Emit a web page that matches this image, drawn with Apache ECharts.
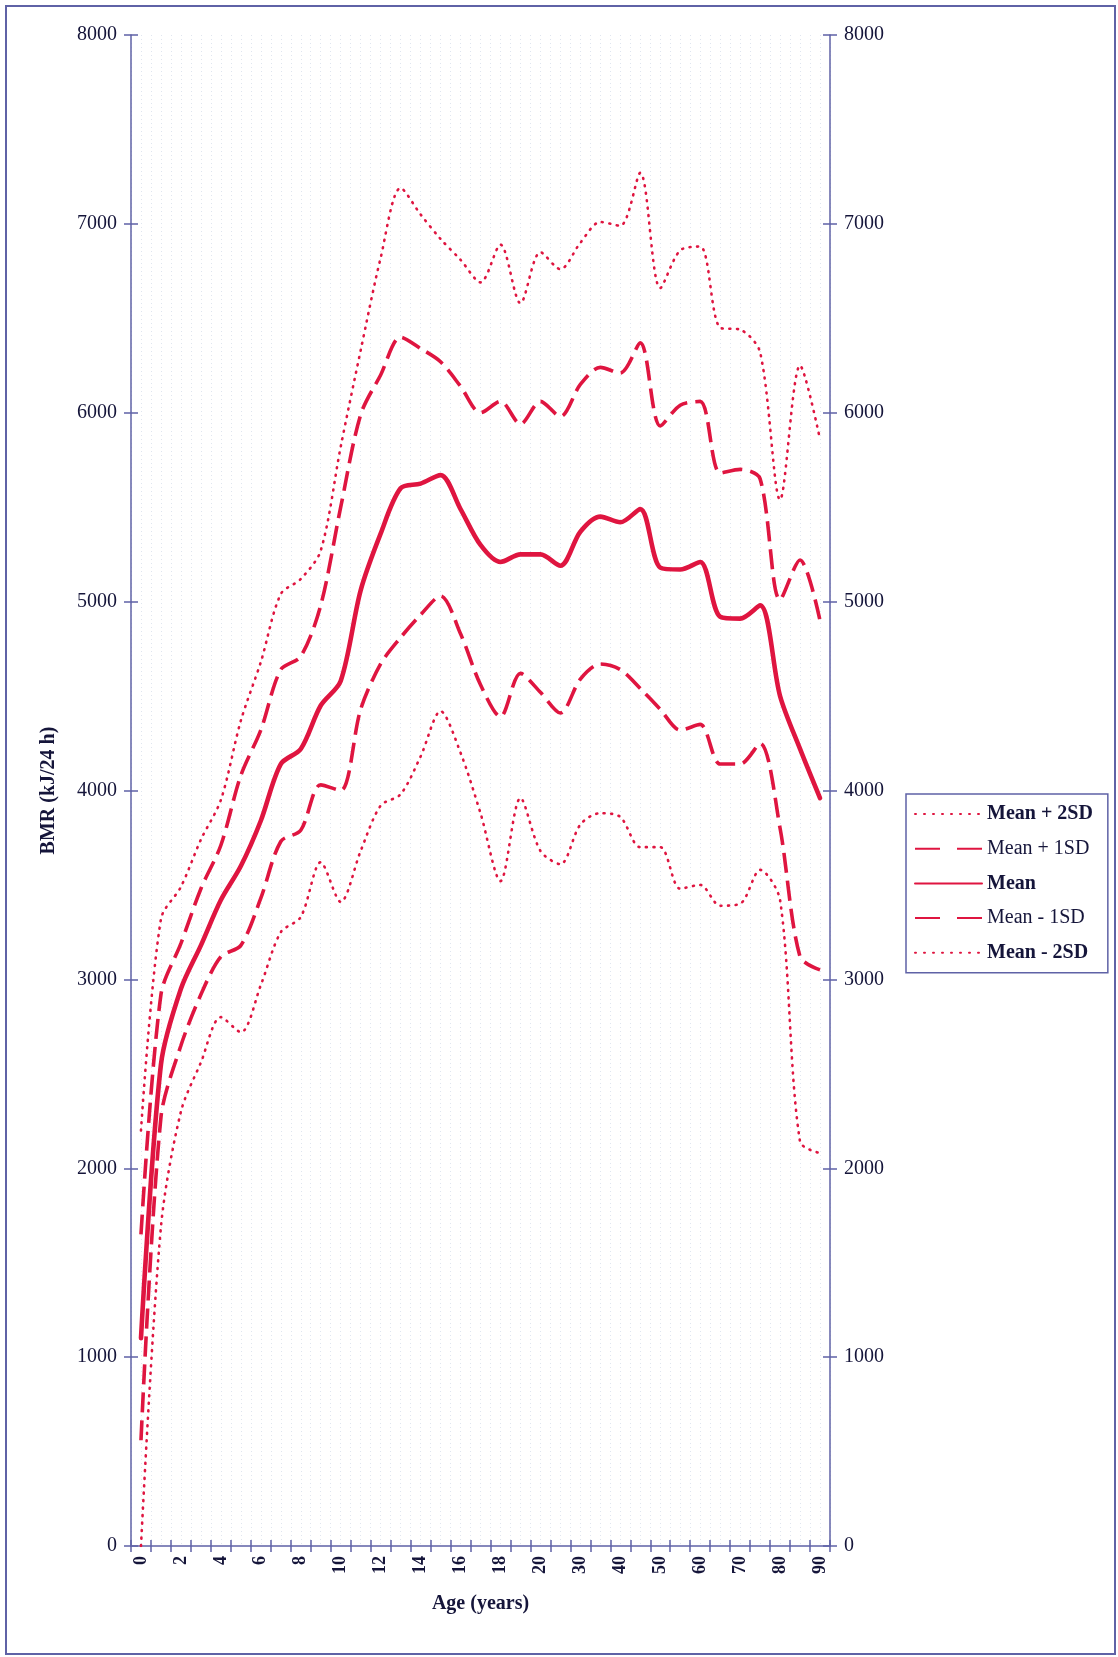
<!DOCTYPE html>
<html>
<head>
<meta charset="utf-8">
<title>BMR by age</title>
<script src="https://cdn.jsdelivr.net/npm/echarts@6/dist/echarts.min.js"></script>
<style>
  html, body { margin: 0; padding: 0; background: #ffffff; }
  #chart { width: 1118px; height: 1657px; }
</style>
</head>
<body>
<div id="chart"></div>
<script>
// Age categories (years); every other one is labelled on the axis
const ages = ['0','1','2','3','4','5','6','7','8','9','10','11','12','13','14','15','16','17','18','19','20',
              '25','30','35','40','45','50','55','60','65','70','75','80','85','90'];

// BMR (kJ/24 h)
const meanPlus2SD = [2200, 3320, 3490, 3740, 3950, 4370, 4680, 5040, 5120, 5270, 5820, 6330, 6820, 7190, 7050, 6920, 6810, 6690, 6890, 6580, 6850,
                     6760, 6900, 7010, 6990, 7270, 6660, 6860, 6880, 6450, 6440, 6320, 5540, 6250, 5860];
const meanPlus1SD = [1650, 2920, 3190, 3480, 3710, 4080, 4320, 4640, 4710, 4980, 5500, 5990, 6200, 6400, 6340, 6270, 6140, 6000, 6060, 5940, 6060,
                     5980, 6150, 6240, 6210, 6370, 5930, 6040, 6060, 5680, 5700, 5650, 5010, 5220, 4900];
const meanBMR     = [1100, 2550, 2950, 3180, 3420, 3600, 3840, 4140, 4220, 4450, 4580, 5060, 5360, 5600, 5625, 5670, 5490, 5300, 5210, 5250, 5250,
                     5190, 5370, 5450, 5420, 5490, 5180, 5170, 5210, 4920, 4910, 4980, 4500, 4220, 3960];
const meanMinus1SD = [560, 2270, 2650, 2920, 3120, 3180, 3430, 3730, 3790, 4030, 4000, 4430, 4670, 4810, 4930, 5030, 4830, 4560, 4390, 4620, 4520,
                      4410, 4590, 4670, 4640, 4540, 4430, 4320, 4350, 4140, 4140, 4250, 3800, 3120, 3050];
const meanMinus2SD = [0, 1690, 2300, 2560, 2800, 2720, 2970, 3250, 3330, 3620, 3410, 3680, 3920, 3980, 4180, 4420, 4200, 3880, 3520, 3960, 3680,
                      3610, 3820, 3880, 3860, 3700, 3700, 3480, 3500, 3390, 3400, 3580, 3420, 2140, 2080];

const seriesNames = ['Mean + 2SD', 'Mean + 1SD', 'Mean', 'Mean - 1SD', 'Mean - 2SD'];

const FONT = 'Liberation Serif';
const AXIS = '#5f62a6';
const RED = '#df1540';
const INK = '#15153a';

const chart = echarts.init(document.getElementById('chart'), null, { renderer: 'canvas' });

const dotted = { color: RED, width: 2.6, type: [1, 6.5], cap: 'round' };
const dashed = { color: RED, width: 3.6, type: [20, 8], cap: 'butt' };
const solid  = { color: RED, width: 4.6, type: 'solid', cap: 'round' };

function line(name, data, style) {
  return {
    name: name,
    type: 'line',
    data: data,
    xAxisIndex: 0,
    yAxisIndex: 0,
    smooth: 0.3,
    symbol: 'none',
    lineStyle: style,
    itemStyle: { color: RED },
    z: 5
  };
}

// legend entries: the ±1SD keys use a longer two-dash pattern
const legendData = seriesNames.map(function (n) {
  return n.indexOf('1SD') >= 0
    ? { name: n, lineStyle: { type: [25, 17] } }
    : { name: n, lineStyle: { type: n === 'Mean' ? 'solid' : [1, 8] } };
});

const plain = function (v) { return String(v); };
const yCommon = { type: 'value', min: 0, max: 8000, interval: 1000, splitLine: { show: false } };

chart.setOption({
  backgroundColor: '#ffffff',
  animation: false,
  graphic: [{
    type: 'rect',
    shape: { x: 6, y: 6, width: 1109, height: 1648 },
    style: { fill: 'none', stroke: AXIS, lineWidth: 2 },
    silent: true,
    z: -1
  }],
  grid: { left: 131, right: 288, top: 35, bottom: 111, containLabel: false },
  legend: {
    orient: 'vertical',
    left: 906,
    top: 794,
    padding: [10, 15, 10, 8],
    itemWidth: 67,
    itemHeight: 14,
    itemGap: 14.7,
    borderColor: AXIS,
    borderWidth: 1.5,
    backgroundColor: '#ffffff',
    selectedMode: false,
    itemStyle: { opacity: 0 },
    data: legendData,
    formatter: function (n) {
      return (n.indexOf('1SD') >= 0 ? '{r|' : '{b|') + n + '}';
    },
    textStyle: {
      fontFamily: FONT, fontSize: 20, color: INK, lineHeight: 20,
      rich: {
        b: { fontFamily: FONT, fontSize: 20, fontWeight: 'bold', color: INK, lineHeight: 20 },
        r: { fontFamily: FONT, fontSize: 20, fontWeight: 'normal', color: INK, lineHeight: 20 }
      }
    }
  },
  xAxis: [
    {
      type: 'category',
      data: ages,
      boundaryGap: true,
      position: 'bottom',
      axisLine: { show: true, onZero: false, lineStyle: { color: AXIS, width: 1.5 } },
      axisTick: { show: true, interval: 0, length: 6, lineStyle: { color: AXIS, width: 1.5 } },
      axisLabel: {
        interval: 1, rotate: 90, margin: 10,
        fontFamily: FONT, fontSize: 18, fontWeight: 'bold', color: INK
      },
      splitLine: { show: false },
      name: 'Age (years)',
      nameLocation: 'middle',
      nameGap: 48,
      nameTextStyle: { fontFamily: FONT, fontSize: 20, fontWeight: 'bold', color: INK, verticalAlign: 'top' }
    },
    {
      // inner half of the cross tick marks
      type: 'category',
      data: ages,
      boundaryGap: true,
      position: 'bottom',
      axisLine: { show: false, onZero: false },
      axisTick: { show: true, inside: true, interval: 0, length: 6, lineStyle: { color: AXIS, width: 1.5 } },
      axisLabel: { show: false },
      splitLine: { show: false }
    },
    {
      // faint dotted vertical gridlines, two per age column
      type: 'value',
      min: 0, max: 70, interval: 1,
      position: 'bottom',
      axisLine: { show: false, onZero: false },
      axisTick: { show: false },
      axisLabel: { show: false },
      splitLine: { show: true, lineStyle: { color: '#dfe5ef', width: 1, type: [1, 3] } }
    }
  ],
  yAxis: [
    Object.assign({}, yCommon, {
      position: 'left',
      axisLine: { show: true, lineStyle: { color: AXIS, width: 1.5 } },
      axisTick: { show: true, length: 7, lineStyle: { color: AXIS, width: 1.5 } },
      axisLabel: { margin: 14, fontFamily: FONT, fontSize: 20, color: INK, formatter: plain },
      name: 'BMR (kJ/24 h)',
      nameLocation: 'middle',
      nameGap: 72,
      nameRotate: 90,
      nameTextStyle: { fontFamily: FONT, fontSize: 20, fontWeight: 'bold', color: INK }
    }),
    Object.assign({}, yCommon, {
      position: 'right',
      axisLine: { show: true, lineStyle: { color: AXIS, width: 1.5 } },
      axisTick: { show: true, length: 7, lineStyle: { color: AXIS, width: 1.5 } },
      axisLabel: { margin: 14, fontFamily: FONT, fontSize: 20, color: INK, formatter: plain }
    }),
    Object.assign({}, yCommon, {
      position: 'left',
      axisLine: { show: false },
      axisTick: { show: true, inside: true, length: 7, lineStyle: { color: AXIS, width: 1.5 } },
      axisLabel: { show: false }
    }),
    Object.assign({}, yCommon, {
      position: 'right',
      axisLine: { show: false },
      axisTick: { show: true, inside: true, length: 7, lineStyle: { color: AXIS, width: 1.5 } },
      axisLabel: { show: false }
    })
  ],
  series: [
    line('Mean + 2SD', meanPlus2SD, dotted),
    line('Mean + 1SD', meanPlus1SD, dashed),
    line('Mean', meanBMR, solid),
    line('Mean - 1SD', meanMinus1SD, dashed),
    line('Mean - 2SD', meanMinus2SD, dotted)
  ]
});
</script>
</body>
</html>
